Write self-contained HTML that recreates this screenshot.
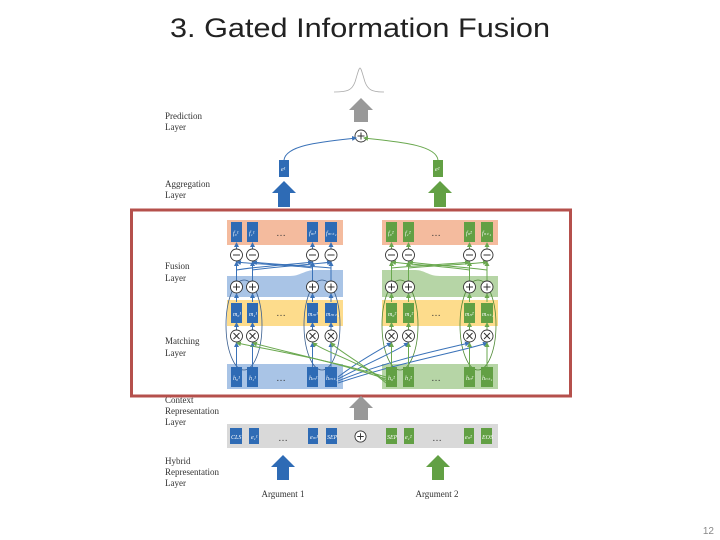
<!DOCTYPE html>
<html><head><meta charset="utf-8"><style>
html,body{margin:0;padding:0;background:#fff;}
svg{display:block;}
.l{font-family:"Liberation Serif",serif;font-size:9px;fill:#333;}
.bt{font-family:"Liberation Serif",serif;font-size:6px;fill:#fff;font-style:italic;}
.dots{font-family:"Liberation Sans",sans-serif;font-size:10px;fill:#333;}
</style></head><body>
<svg width="720" height="540" viewBox="0 0 720 540" xmlns="http://www.w3.org/2000/svg">
<defs>
<marker id="ab" markerWidth="5" markerHeight="5" refX="4" refY="2.5" orient="auto"><path d="M0,0L5,2.5L0,5z" fill="#3a72b8"/></marker>
<marker id="ag" markerWidth="5" markerHeight="5" refX="4" refY="2.5" orient="auto"><path d="M0,0L5,2.5L0,5z" fill="#6aa84f"/></marker>
<symbol id="mn" viewBox="-7 -7 14 14"><circle r="6" fill="#fff" stroke="#333" stroke-width="0.9"/><path d="M-3.5,0H3.5" stroke="#333" stroke-width="1"/></symbol>
<symbol id="pl" viewBox="-7 -7 14 14"><circle r="6" fill="#fff" stroke="#333" stroke-width="0.9"/><path d="M-3.5,0H3.5M0,-3.5V3.5" stroke="#333" stroke-width="1"/></symbol>
<symbol id="ml" viewBox="-7 -7 14 14"><circle r="6" fill="#fff" stroke="#333" stroke-width="0.9"/><path d="M-3,-3L3,3M3,-3L-3,3" stroke="#333" stroke-width="1"/></symbol>
</defs>

<text x="360" y="37" text-anchor="middle" font-family="Liberation Sans, sans-serif" font-size="27" fill="#222" textLength="380" lengthAdjust="spacingAndGlyphs">3. Gated Information Fusion</text>

<!-- left labels -->
<text class="l" x="165" y="119">Prediction</text><text class="l" x="165" y="130">Layer</text>
<text class="l" x="165" y="187">Aggregation</text><text class="l" x="165" y="198">Layer</text>
<text class="l" x="165" y="269">Fusion</text><text class="l" x="165" y="281">Layer</text>
<text class="l" x="165" y="344">Matching</text><text class="l" x="165" y="356">Layer</text>
<text class="l" x="165" y="403">Context</text><text class="l" x="165" y="414">Representation</text><text class="l" x="165" y="425">Layer</text>
<text class="l" x="165" y="464">Hybrid</text><text class="l" x="165" y="475">Representation</text><text class="l" x="165" y="486">Layer</text>

<!-- top -->
<path d="M334,92 C348,92 352,90 355,82 C358,72 359,68 360,68 C361,68 362,72 365,82 C368,90 372,92 384,92" fill="none" stroke="#aaa" stroke-width="0.8"/>
<path d="M354,122V110H349L361,98L373,110H368V122Z" fill="#999"/>
<use href="#pl" x="354" y="129" width="14" height="14"/>
<path d="M284,160 C286,145 320,142 356,138" fill="none" stroke="#3a72b8" stroke-width="1" marker-end="url(#ab)"/>
<path d="M438,160 C436,145 400,142 364,138" fill="none" stroke="#6aa84f" stroke-width="1" marker-end="url(#ag)"/>
<rect x="279" y="160" width="10" height="17" fill="#2e6bb5"/><text class="bt" x="281" y="171">e¹</text>
<rect x="433" y="160" width="10" height="17" fill="#62a044"/><text class="bt" x="435" y="171">e²</text>
<path d="M278,207V193H272L284,181L296,193H290V207Z" fill="#2e6bb5"/>
<path d="M434,207V193H428L440,181L452,193H446V207Z" fill="#62a044"/>

<!-- bands left -->
<rect x="227" y="220" width="116" height="25" fill="#f4bb9e"/>
<rect x="227" y="276" width="116" height="21" fill="#a9c4e6"/>
<path d="M290,276 C300,276 305,270 315,270 L343,270 V276Z" fill="#a9c4e6"/>
<rect x="227" y="300" width="116" height="26" fill="#fddc8c"/>
<rect x="227" y="364" width="116" height="25" fill="#a9c4e6"/>
<!-- bands right -->
<rect x="382" y="220" width="116" height="25" fill="#f4bb9e"/>
<rect x="382" y="276" width="116" height="21" fill="#b6d5a6"/>
<path d="M382,276 V270 L415,270 C425,270 428,276 440,276Z" fill="#b6d5a6"/>
<rect x="382" y="300" width="116" height="26" fill="#fddc8c"/>
<rect x="382" y="364" width="116" height="25" fill="#b6d5a6"/>

<!-- ellipses -->
<g fill="none" stroke-width="0.8">
<ellipse cx="244" cy="325" rx="18" ry="45" stroke="#3a5f90"/>
<ellipse cx="322" cy="325" rx="18" ry="45" stroke="#3a5f90"/>
<ellipse cx="400" cy="325" rx="18" ry="45" stroke="#4f8a35"/>
<ellipse cx="478" cy="325" rx="18" ry="45" stroke="#4f8a35"/>
</g>

<!-- vertical connectors left -->
<g stroke="#3a72b8" stroke-width="1" fill="none" marker-end="url(#ab)">
<path d="M236.5,367V343"/><path d="M252.5,367V343"/><path d="M312.5,367V343"/><path d="M331,367V343"/>
<path d="M236.5,330V323"/><path d="M252.5,330V323"/><path d="M312.5,330V323"/><path d="M331,330V323"/>
<path d="M236.5,302V294"/><path d="M252.5,302V294"/><path d="M312.5,302V294"/><path d="M331,302V294"/>
<path d="M236.5,281V262"/><path d="M252.5,281V262"/><path d="M312.5,281V262"/><path d="M331,281V262"/>
<path d="M236.5,249V243"/><path d="M252.5,249V243"/><path d="M312.5,249V243"/><path d="M331,249V243"/>
<path d="M236.5,270 C260,266 300,264 312,262"/><path d="M252.5,270 C280,266 320,264 331,262"/>
<path d="M312.5,268 C290,265 250,264 237,262"/><path d="M331,268 C300,265 265,264 253,262"/>
<!-- cross links to right -->
<path d="M338,377 C360,360 380,350 391,343"/><path d="M338,379 C370,362 395,352 408,343"/>
<path d="M338,381 C390,360 440,350 469,343"/><path d="M338,383 C400,362 460,352 487,343"/>
</g>
<!-- vertical connectors right -->
<g stroke="#6aa84f" stroke-width="1" fill="none" marker-end="url(#ag)">
<path d="M391.5,367V343"/><path d="M408.5,367V343"/><path d="M469.5,367V343"/><path d="M487,367V343"/>
<path d="M391.5,330V323"/><path d="M408.5,330V323"/><path d="M469.5,330V323"/><path d="M487,330V323"/>
<path d="M391.5,302V294"/><path d="M408.5,302V294"/><path d="M469.5,302V294"/><path d="M487,302V294"/>
<path d="M391.5,281V262"/><path d="M408.5,281V262"/><path d="M469.5,281V262"/><path d="M487,281V262"/>
<path d="M391.5,249V243"/><path d="M408.5,249V243"/><path d="M469.5,249V243"/><path d="M487,249V243"/>
<path d="M391.5,268 C420,265 455,264 469,262"/><path d="M408.5,268 C440,265 475,264 487,262"/>
<path d="M469.5,270 C440,266 405,264 392,262"/><path d="M487,270 C455,266 420,264 409,262"/>
<path d="M386,377 C330,360 270,350 237,343"/><path d="M386,379 C335,362 285,352 253,343"/>
<path d="M386,381 C360,362 325,352 313,343"/><path d="M386,383 C365,365 340,352 331,343"/>
</g>

<!-- circles -->
<g>
<use href="#mn" x="229.5" y="248" width="14" height="14"/><use href="#mn" x="245.5" y="248" width="14" height="14"/><use href="#mn" x="305.5" y="248" width="14" height="14"/><use href="#mn" x="324" y="248" width="14" height="14"/>
<use href="#mn" x="384.5" y="248" width="14" height="14"/><use href="#mn" x="401.5" y="248" width="14" height="14"/><use href="#mn" x="462.5" y="248" width="14" height="14"/><use href="#mn" x="480" y="248" width="14" height="14"/>
<use href="#pl" x="229.5" y="280" width="14" height="14"/><use href="#pl" x="245.5" y="280" width="14" height="14"/><use href="#pl" x="305.5" y="280" width="14" height="14"/><use href="#pl" x="324" y="280" width="14" height="14"/>
<use href="#pl" x="384.5" y="280" width="14" height="14"/><use href="#pl" x="401.5" y="280" width="14" height="14"/><use href="#pl" x="462.5" y="280" width="14" height="14"/><use href="#pl" x="480" y="280" width="14" height="14"/>
<use href="#ml" x="229.5" y="329" width="14" height="14"/><use href="#ml" x="245.5" y="329" width="14" height="14"/><use href="#ml" x="305.5" y="329" width="14" height="14"/><use href="#ml" x="324" y="329" width="14" height="14"/>
<use href="#ml" x="384.5" y="329" width="14" height="14"/><use href="#ml" x="401.5" y="329" width="14" height="14"/><use href="#ml" x="462.5" y="329" width="14" height="14"/><use href="#ml" x="480" y="329" width="14" height="14"/>
</g>

<!-- blocks left -->
<g fill="#2e6bb5">
<rect x="231" y="222" width="11" height="20"/><rect x="247" y="222" width="11" height="20"/><rect x="307" y="222" width="11" height="20"/><rect x="325" y="222" width="12" height="20"/>
<rect x="231" y="303" width="11" height="20"/><rect x="247" y="303" width="11" height="20"/><rect x="307" y="303" width="11" height="20"/><rect x="325" y="303" width="12" height="20"/>
<rect x="231" y="367" width="11" height="20"/><rect x="247" y="367" width="11" height="20"/><rect x="307" y="367" width="11" height="20"/><rect x="325" y="367" width="12" height="20"/>
</g>
<g fill="#62a044">
<rect x="386" y="222" width="11" height="20"/><rect x="403" y="222" width="11" height="20"/><rect x="464" y="222" width="11" height="20"/><rect x="481" y="222" width="12" height="20"/>
<rect x="386" y="303" width="11" height="20"/><rect x="403" y="303" width="11" height="20"/><rect x="464" y="303" width="11" height="20"/><rect x="481" y="303" width="12" height="20"/>
<rect x="386" y="367" width="11" height="20"/><rect x="403" y="367" width="11" height="20"/><rect x="464" y="367" width="11" height="20"/><rect x="481" y="367" width="12" height="20"/>
</g>
<g class="bt">
<text x="233" y="235">f₀¹</text><text x="249" y="235">f₁¹</text><text x="309" y="235">fₘ¹</text><text x="326" y="235">fₘ₊₁</text>
<text x="233" y="316">m₀¹</text><text x="249" y="316">m₁¹</text><text x="308" y="316">mₘ¹</text><text x="326" y="316">mₘ₊₁</text>
<text x="233" y="380">h₀¹</text><text x="249" y="380">h₁¹</text><text x="309" y="380">hₘ¹</text><text x="326" y="380">hₘ₊₁</text>
<text x="388" y="235">f₀²</text><text x="405" y="235">f₁²</text><text x="466" y="235">fₙ²</text><text x="482" y="235">fₙ₊₁</text>
<text x="388" y="316">m₀²</text><text x="405" y="316">m₁²</text><text x="465" y="316">mₙ²</text><text x="482" y="316">mₙ₊₁</text>
<text x="388" y="380">h₀²</text><text x="405" y="380">h₁²</text><text x="466" y="380">hₙ²</text><text x="482" y="380">hₙ₊₁</text>
</g>
<g class="dots">
<text x="276" y="236">…</text><text x="276" y="316">…</text><text x="276" y="381">…</text>
<text x="431" y="236">…</text><text x="431" y="316">…</text><text x="431" y="381">…</text>
</g>

<!-- red frame -->
<rect x="131.5" y="210" width="439" height="186" fill="none" stroke="#b5504c" stroke-width="3"/>

<!-- bottom -->
<path d="M354,420V408H349L361,396L373,408H368V420Z" fill="#999"/>
<rect x="227" y="424" width="271" height="24" fill="#d9d9d9"/>
<g fill="#2e6bb5"><rect x="230" y="428" width="12" height="16"/><rect x="249" y="428" width="10" height="16"/><rect x="308" y="428" width="10" height="16"/><rect x="326" y="428" width="11" height="16"/></g>
<g fill="#62a044"><rect x="386" y="428" width="11" height="16"/><rect x="404" y="428" width="10" height="16"/><rect x="464" y="428" width="10" height="16"/><rect x="481" y="428" width="11" height="16"/></g>
<g class="bt"><text x="231" y="439">CLS</text><text x="251" y="439">e₁¹</text><text x="310" y="439">eₘ¹</text><text x="327" y="439">SEP</text>
<text x="387" y="439">SEP</text><text x="405" y="439">e₁²</text><text x="465" y="439">eₙ²</text><text x="482" y="439">EOS</text></g>
<g class="dots"><text x="278" y="441">…</text><text x="432" y="441">…</text></g>
<use href="#pl" x="354" y="430" width="13" height="13"/>
<path d="M277,480V467H271L283,455L295,467H289V480Z" fill="#2e6bb5"/>
<path d="M432,480V467H426L438,455L450,467H444V480Z" fill="#62a044"/>
<text class="l" x="283" y="497" text-anchor="middle">Argument 1</text>
<text class="l" x="437" y="497" text-anchor="middle">Argument 2</text>

<text x="714" y="534" text-anchor="end" font-family="Liberation Sans, sans-serif" font-size="10" fill="#888">12</text>
</svg>
</body></html>
